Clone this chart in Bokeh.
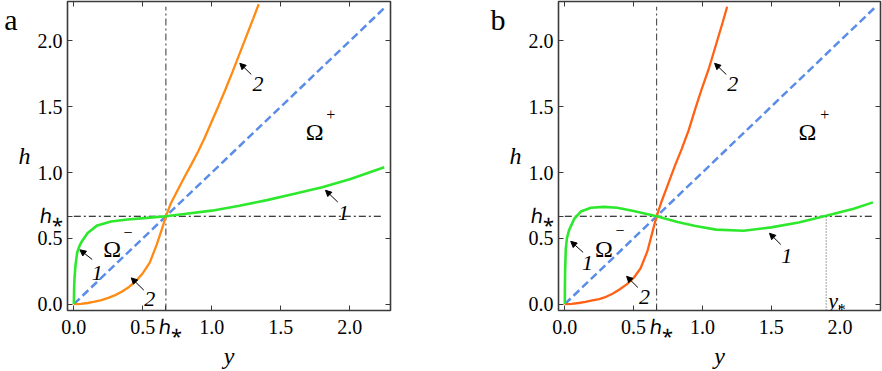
from bokeh.plotting import figure
from bokeh.models import (Range1d, FixedTicker, LinearAxis, Label, Arrow, NormalHead,
                          InlineStyleSheet, AllLabels)
from bokeh.layouts import row
from bokeh.embed import file_html
from bokeh.resources import INLINE

# ---------------- data ----------------
h_star = 0.667
y_star = 1.90
ticks = [0.0, 0.5, 1.0, 1.5, 2.0]
tick_labels = ["0.0", "0.5", "1.0", "1.5", "2.0"]
h_star_label = "ℎ⁎"

diag_y = [0.0, 2.26]
diag_h = [0.0, 2.26]

a_green_y = [0, 0.001, 0.002, 0.005, 0.012, 0.024, 0.04, 0.06, 0.1, 0.17, 0.27, 0.39, 0.53,
             0.667, 0.8, 1.0, 1.2, 1.4, 1.6, 1.8, 2.0, 2.25]
a_green_h = [0, 0.06, 0.12, 0.2, 0.295, 0.39, 0.44, 0.48, 0.54, 0.598, 0.628, 0.643, 0.655,
             0.667, 0.684, 0.71, 0.748, 0.79, 0.838, 0.888, 0.948, 1.04]

a_orange_y = [0, 0.05, 0.1, 0.15, 0.2, 0.25, 0.3, 0.35, 0.4, 0.45, 0.5, 0.55, 0.6, 0.64, 0.667,
              0.7, 0.75, 0.8, 0.85, 0.9, 0.95, 1.0, 1.05, 1.1, 1.15, 1.2, 1.25, 1.3, 1.34]
a_orange_h = [0, 0.002, 0.008, 0.018, 0.03, 0.047, 0.068, 0.095, 0.13, 0.175, 0.235, 0.315, 0.45,
              0.575, 0.667, 0.758, 0.862, 0.962, 1.058, 1.158, 1.268, 1.39, 1.51, 1.635, 1.765,
              1.9, 2.035, 2.17, 2.28]

b_green_y = [0, 0.0005, 0.002, 0.007, 0.015, 0.031, 0.068, 0.116, 0.19, 0.285, 0.38, 0.5, 0.667,
             0.82, 0.95, 1.1, 1.3, 1.5, 1.7, 1.9, 2.1, 2.24]
b_green_h = [0, 0.12, 0.247, 0.417, 0.5, 0.562, 0.647, 0.703, 0.732, 0.739, 0.732, 0.708, 0.667,
             0.623, 0.593, 0.566, 0.557, 0.583, 0.62, 0.671, 0.725, 0.773]

b_orange_y = [0, 0.05, 0.1, 0.15, 0.2, 0.25, 0.3, 0.35, 0.4, 0.45, 0.5, 0.55, 0.6, 0.64, 0.667,
              0.7, 0.75, 0.8, 0.85, 0.9, 0.95, 1.0, 1.05, 1.1, 1.15, 1.18]
b_orange_h = [0, 0.002, 0.008, 0.017, 0.028, 0.038, 0.055, 0.08, 0.113, 0.15, 0.198, 0.27, 0.4,
              0.56, 0.667, 0.77, 0.91, 1.05, 1.18, 1.32, 1.49, 1.65, 1.8, 1.975, 2.15, 2.26]

FONT = "Liberation Serif"
FRAME = "#3a3a3a"
GREEN = "#2EE82E"
BLUE = "#5B8DE8"
CSS = "* { font-family: 'Liberation Serif', 'Times New Roman', serif !important; }"
LETTER_POS = 2.165
NBSP = "\u00a0"


def lab(p, x, y, text, size, italic=False, align="center", baseline="alphabetic"):
    p.add_layout(Label(x=x, y=y, text=text, text_font=FONT, text_font_size=f"{size}px",
                       text_font_style="italic" if italic else "normal",
                       text_align=align, text_baseline=baseline, text_color="black"))


def arrow(p, x0, y0, x1, y1):
    p.add_layout(Arrow(x_start=x0, y_start=y0, x_end=x1, y_end=y1, line_width=1,
                       line_color="black",
                       end=NormalHead(size=6, fill_color="black", line_color="black")))


def style_axis(ax, labels=True, hs_text=h_star_label):
    ax.axis_line_color = None
    ax.major_tick_in = 5
    ax.major_tick_out = 0
    ax.major_tick_line_color = FRAME
    ax.major_tick_line_width = 1
    ax.minor_tick_line_color = None
    ax.major_label_text_font = FONT
    ax.major_label_text_color = "black"
    ax.major_label_policy = AllLabels()
    if labels:
        ax.ticker = FixedTicker(ticks=ticks + [h_star])
        ov = {t: s for t, s in zip(ticks, tick_labels)}
        ov[h_star] = hs_text
        ax.major_label_overrides = ov
        ax.major_label_text_font_size = "20px"
        ax.major_label_standoff = 5
    else:
        ax.ticker = FixedTicker(ticks=ticks)
        ax.major_label_overrides = {t: "" for t in ticks}
        ax.major_label_text_font_size = "1px"
        ax.major_label_standoff = 0


def panel(width, bl, br, orange_y, orange_h, green_y, green_h, orange_color, letter, letter_standoff):
    p = figure(width=width, height=371, output_backend="svg", toolbar_location=None,
               x_range=Range1d(-0.046, 2.295), y_range=Range1d(-0.049, 2.30),
               min_border_left=bl, min_border_right=br, min_border_top=1, min_border_bottom=47,
               stylesheets=[InlineStyleSheet(css=CSS)],
               styles={"font-family": "'Liberation Serif', serif"})
    p.grid.visible = False
    p.outline_line_color = FRAME
    p.outline_line_width = 1.6
    style_axis(p.xaxis[0], hs_text=NBSP * 2 + h_star_label)
    style_axis(p.yaxis[0])
    p.xaxis[0].axis_label = "y"
    p.yaxis[0].axis_label = "h"
    for ax in (p.xaxis[0], p.yaxis[0]):
        ax.axis_label_text_font = FONT
        ax.axis_label_text_font_size = "24px"
        ax.axis_label_text_font_style = "italic"
        ax.axis_label_text_color = "black"
        ax.axis_label_standoff = 4
    p.xaxis[0].axis_label_standoff = 2
    p.yaxis[0].axis_label_orientation = "horizontal"
    top = LinearAxis()
    right = LinearAxis()
    style_axis(top, labels=False)
    style_axis(right, labels=False)
    p.add_layout(top, "above")
    p.add_layout(right, "right")

    # panel letter as an outer left axis label
    lax = LinearAxis(ticker=FixedTicker(ticks=[LETTER_POS]),
                     major_label_overrides={LETTER_POS: letter})
    lax.axis_line_color = None
    lax.major_tick_line_color = None
    lax.minor_tick_line_color = None
    lax.major_label_text_font = FONT
    lax.major_label_text_font_size = "30px"
    lax.major_label_text_color = "black"
    lax.major_label_standoff = letter_standoff
    p.add_layout(lax, "left")

    p.line([h_star, h_star], [-0.049, 2.26], line_color="#555555", line_width=1.2,
           line_dash="7 3 2 3")
    p.line([0, 2.24], [h_star, h_star], line_color="black", line_width=1.1,
           line_dash="7 3 2 3")
    p.line(diag_y, diag_h, line_color=BLUE, line_width=2.5, line_dash="8 4")
    p.line(orange_y, orange_h, line_color=orange_color, line_width=2.3)
    p.line(green_y, green_h, line_color=GREEN, line_width=2.6)
    return p


pa = panel(440, 67, 50, a_orange_y, a_orange_h, a_green_y, a_green_h, "#FF8A14", "a", -8)
pb = panel(442, 118, 2, b_orange_y, b_orange_h, b_green_y, b_green_h, "#FF6214", "b", -5)

pb.line([y_star, y_star], [-0.049, h_star], line_color="#444444", line_width=1,
        line_dash="1 2")

lab(pa, 0.278, 0.417, "Ω", 24)
lab(pa, 0.392, 0.545, "−", 16, baseline="middle")
lab(pa, 1.745, 1.31, "Ω", 24)
lab(pa, 1.862, 1.44, "+", 16, baseline="middle")
lab(pb, 0.285, 0.417, "Ω", 24)
lab(pb, 0.402, 0.56, "−", 16, baseline="middle")
lab(pb, 1.764, 1.31, "Ω", 24)
lab(pb, 1.89, 1.44, "+", 16, baseline="middle")

lab(pa, 1.335, 1.673, "2", 22, italic=True)
arrow(pa, 1.286, 1.745, 1.203, 1.83)
lab(pa, 1.955, 0.695, "1", 22, italic=True)
arrow(pa, 1.913, 0.775, 1.824, 0.865)
lab(pa, 0.17, 0.235, "1", 22, italic=True)
arrow(pa, 0.133, 0.339, 0.044, 0.412)
lab(pa, 0.55, 0.041, "2", 22, italic=True)
arrow(pa, 0.507, 0.106, 0.416, 0.199)

lab(pb, 1.22, 1.673, "2", 22, italic=True)
arrow(pb, 1.174, 1.745, 1.089, 1.83)
lab(pb, 1.614, 0.364, "1", 22, italic=True)
arrow(pb, 1.570, 0.453, 1.488, 0.538)
lab(pb, 0.164, 0.315, "1", 22, italic=True)
arrow(pb, 0.133, 0.393, 0.043, 0.477)
lab(pb, 0.58, 0.053, "2", 22, italic=True)
arrow(pb, 0.531, 0.126, 0.449, 0.211)

lab(pb, 1.915, 0.024, "y", 22, italic=True, align="left")
lab(pb, 1.985, -0.04, "*", 16, align="left")

layout = row(pa, pb, stylesheets=[InlineStyleSheet(css=CSS)])
open("out.html", "w").write(file_html(layout, INLINE))
